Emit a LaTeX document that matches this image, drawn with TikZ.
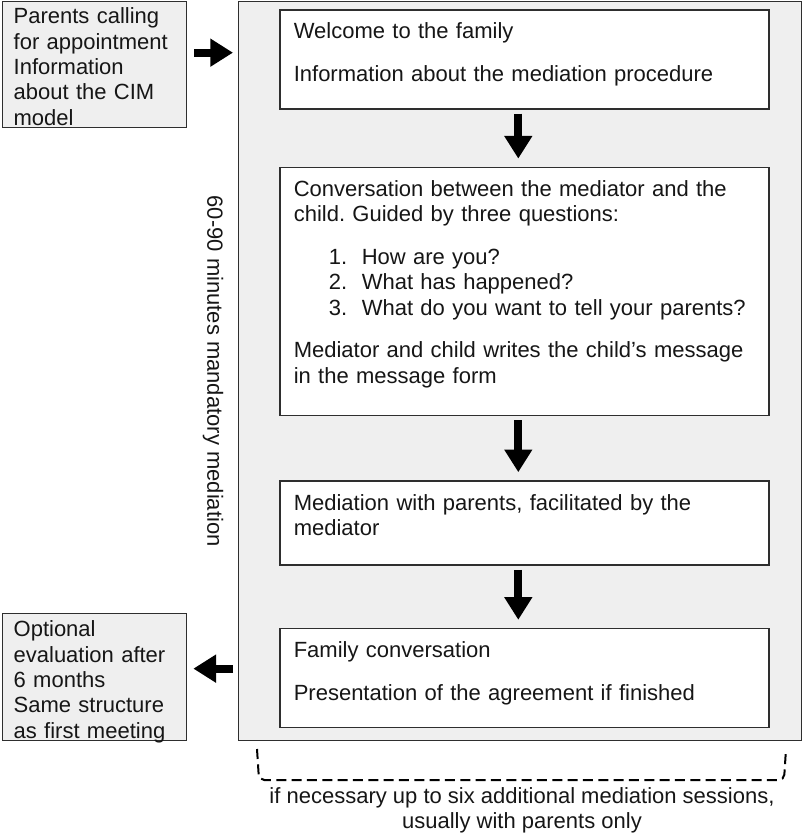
\documentclass[tikz,border=0pt]{standalone}
\usepackage{fontspec}
\setmainfont{Liberation Sans}
\usetikzlibrary{arrows.meta,positioning}
\definecolor{panel}{HTML}{EFEFEF}
\definecolor{ink}{HTML}{161616}
\definecolor{edge}{HTML}{2E2E2E}
\newcommand{\qline}[2]{\hspace*{26.25pt}\makebox[24.75pt][l]{#1}#2}
\frenchspacing

\begin{document}
\begin{tikzpicture}[x=0.75pt,y=-0.75pt,
  every node/.style={font=\fontsize{16.5pt}{19pt}\selectfont,text=ink},
  sidebox/.style={draw=edge,fill=panel,line width=1pt,anchor=north west,align=left,
    text width=121.5pt,inner xsep=8.25pt,inner ysep=0pt,text depth=78pt},
  stagebox/.style={draw=edge,fill=white,line width=1.2pt,align=left,
    text width=345.75pt,inner xsep=10.5pt,inner ysep=0pt,text height=21.75pt},
  fatarrow/.style={line width=6pt,-{Triangle[width=20pt,length=17pt]}},
  bracket/.style={line width=1.5pt,dash pattern=on 7.5pt off 4pt,rounded corners=4pt}]
  \useasboundingbox (0,0) rectangle (803,839);

  % the session frame
  \node[draw=edge,fill=panel,line width=1pt,anchor=north west,inner sep=0pt,
        minimum width=422.25pt,minimum height=554.25pt] (frame) at (238,1) {};
  \node[rotate=-90] (span) at ([xshift=-18.75pt]frame.west) {60-90 minutes mandatory mediation};

  % outside boxes
  \node[sidebox,text height=16.5pt] (info) at (2,1)
    {Parents calling\\for appointment\\Information\\about the CIM\\model};
  \node[sidebox,text height=17.25pt] (eval) at (2,613)
    {Optional\\evaluation after\\6 months\\Same structure\\as first meeting};

  % the four stages
  \node[stagebox,anchor=north west,text depth=52.5pt] (b1) at (279,9)
    {Welcome to the family\\[13pt]Information about the mediation procedure};
  \node[stagebox,below=42.75pt of b1,text depth=164.25pt] (b2)
    {Conversation between the mediator and the\\
     child. Guided by three questions:\\[13pt]
     \qline{1.}{How are you?}\\
     \qline{2.}{What has happened?}\\
     \qline{3.}{What do you want to tell your parents?}\\[13pt]
     Mediator and child writes the child's message\\
     in the message form};
  \node[stagebox,below=48pt of b2,text depth=41.25pt] (b3)
    {Mediation with parents, facilitated by the\\mediator};
  \node[stagebox,below=46.5pt of b3,text depth=52.5pt] (b4)
    {Family conversation\\[13pt]Presentation of the agreement if finished};

  \foreach \a/\b in {b1/b2,b2/b3,b3/b4}
    \draw[fatarrow,shorten <=3pt,shorten >=6pt] ([xshift=-4.5pt]\a.south) -- ([xshift=-4.5pt]\b.north);

  \coordinate (callin) at ([yshift=9pt]info.east);
  \draw[fatarrow,shorten <=5.25pt,shorten >=3.75pt] (callin) -- (callin -| frame.west);
  \coordinate (evalin) at ([yshift=6.4pt]eval.east);
  \draw[fatarrow,shorten <=3.75pt,shorten >=4.5pt] (evalin -| frame.west) -- (evalin);

  % optional extra sessions
  \draw[bracket] (257,749) -- (259,780) -- (784,780) -- (786,749);
  \node[align=center] (extra) at (522,810)
    {if necessary up to six additional mediation sessions,\\usually with parents only};
\end{tikzpicture}
\end{document}
